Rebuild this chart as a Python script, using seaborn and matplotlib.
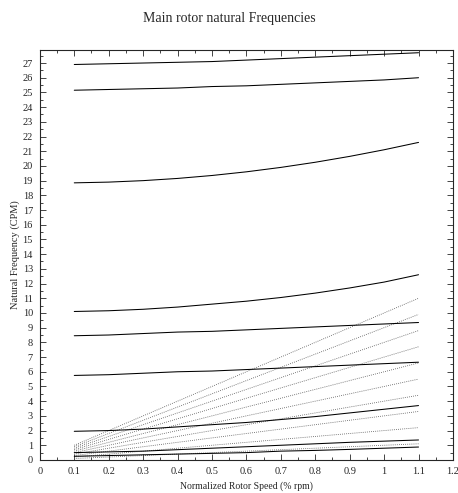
import matplotlib
matplotlib.use("Agg")
import matplotlib.pyplot as plt
import seaborn as sns
import pandas as pd
from matplotlib.ticker import MultipleLocator

# normalized rotor speed
speed = [0.1, 0.2, 0.3, 0.4, 0.5, 0.6, 0.7, 0.8, 0.9, 1.0, 1.1]

# natural frequency branches
mode1 = [26.9, 26.95, 27.0, 27.05, 27.1, 27.2, 27.3, 27.4, 27.5, 27.6, 27.7]
mode2 = [25.15, 25.2, 25.25, 25.3, 25.4, 25.45, 25.55, 25.65, 25.75, 25.85, 26.0]
mode3 = [18.85, 18.9, 19.0, 19.15, 19.35, 19.6, 19.9, 20.25, 20.65, 21.1, 21.6]
mode4 = [10.1, 10.15, 10.25, 10.4, 10.6, 10.8, 11.05, 11.35, 11.7, 12.1, 12.6]
mode5 = [8.45, 8.5, 8.6, 8.7, 8.75, 8.85, 8.95, 9.05, 9.15, 9.25, 9.35]
mode6 = [5.75, 5.8, 5.9, 6.0, 6.05, 6.15, 6.25, 6.35, 6.45, 6.55, 6.65]
mode7 = [1.95, 2.0, 2.1, 2.25, 2.4, 2.55, 2.75, 2.95, 3.2, 3.45, 3.7]
mode8 = [0.5, 0.55, 0.6, 0.7, 0.8, 0.9, 1.0, 1.1, 1.2, 1.28, 1.36]
mode9 = [0.25, 0.3, 0.35, 0.4, 0.45, 0.5, 0.6, 0.65, 0.72, 0.8, 0.88]
modes = [mode1, mode2, mode3, mode4, mode5, mode6, mode7, mode8, mode9]

# per-rev excitation lines (n/rev)
harmonics = [1, 2, 3, 4, 5, 6, 7, 8, 9, 10]

sns.set_style("ticks")
plt.rcParams['font.family'] = ['Liberation Serif', 'DejaVu Serif']
plt.rcParams['xtick.direction'] = 'in'
plt.rcParams['ytick.direction'] = 'in'

fig = plt.figure(figsize=(4.58, 4.93), dpi=100)
ax = fig.add_axes([0.087, 0.067, 0.902, 0.832])

for n in harmonics:
    sns.lineplot(x=speed, y=[n * s for s in speed], ax=ax, color='#555555',
                 linewidth=0.6, linestyle=(0, (1, 1.5)))

for m in modes:
    sns.lineplot(x=speed, y=m, ax=ax, color='black', linewidth=0.75)

ax.set_xlim(0, 1.2)
ax.set_ylim(0, 27.9)
ax.set_xticks([0, 0.1, 0.2, 0.3, 0.4, 0.5, 0.6, 0.7, 0.8, 0.9, 1.0, 1.1, 1.2])
ax.set_xticklabels(['0', '0.1', '0.2', '0.3', '0.4', '0.5', '0.6', '0.7',
                    '0.8', '0.9', '1', '1.1', '1.2'])
ax.set_yticks(range(0, 28))
ax.xaxis.set_minor_locator(MultipleLocator(0.05))
ax.yaxis.set_minor_locator(MultipleLocator(0.5))
ax.tick_params(which='both', top=True, right=True, labelsize=7.5, width=0.6)
ax.tick_params(which='major', length=4, pad=5)
ax.tick_params(which='minor', length=2)
for sp in ax.spines.values():
    sp.set_linewidth(0.8)

ax.set_xlabel('Normalized Rotor Speed (% rpm)', fontsize=7, labelpad=4)
ax.set_ylabel('Natural Frequency (CPM)', fontsize=7.5, labelpad=2)
fig.suptitle('Main rotor natural Frequencies', fontsize=10, y=0.975)

fig.savefig('out.png', dpi=100)
